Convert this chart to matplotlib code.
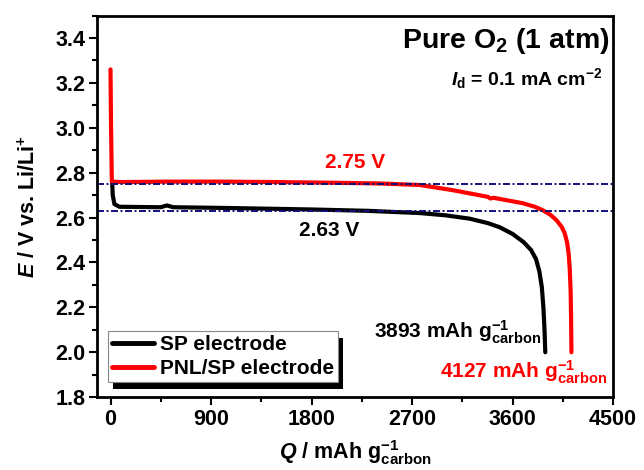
import numpy as np
import matplotlib
matplotlib.use("Agg")
import matplotlib.pyplot as plt
from matplotlib.ticker import MultipleLocator
from matplotlib.patches import Rectangle

plt.rcParams['font.family'] = 'Liberation Sans'
plt.rcParams['font.weight'] = 'bold'
plt.rcParams['mathtext.fontset'] = 'custom'
plt.rcParams['mathtext.rm'] = 'Liberation Sans:bold'
plt.rcParams['mathtext.it'] = 'Liberation Sans:italic:bold'
plt.rcParams['mathtext.bf'] = 'Liberation Sans:bold'

# Discharge curves
q_sp = [15, 20, 35, 80, 450, 505, 560, 1000, 1800, 2300, 2769, 3000, 3216, 3380, 3484,
        3600, 3700, 3766, 3810, 3840, 3862, 3876, 3886, 3893]
e_sp = [2.76, 2.70, 2.66, 2.648, 2.646, 2.654, 2.646, 2.643, 2.636, 2.630, 2.620,
        2.610, 2.595, 2.575, 2.557, 2.527, 2.49, 2.455, 2.415, 2.36, 2.29, 2.20,
        2.10, 2.00]

q_pnl = [0, 5, 12, 100, 500, 1000, 1500, 2000, 2400, 2769, 3064, 3380, 3400, 3430,
         3690, 3800, 3869, 3940, 3994, 4040, 4066, 4088, 4102, 4112, 4120, 4124, 4127]
e_pnl = [3.26, 3.00, 2.76, 2.758, 2.760, 2.760, 2.758, 2.755, 2.752, 2.745, 2.722,
         2.692, 2.685, 2.688, 2.664, 2.648, 2.633, 2.612, 2.588, 2.558, 2.531, 2.49,
         2.44, 2.37, 2.27, 2.15, 2.00]

ref_levels = [2.75, 2.63]

fig = plt.figure(figsize=(6.44, 4.7), dpi=100)
ax = fig.add_axes([0.1506, 0.155, 0.8014, 0.812])

ax.plot(q_sp, e_sp, color='black', lw=3.0, label='SP electrode',
        solid_capstyle='round', solid_joinstyle='round')
ax.plot(q_pnl, e_pnl, color='#ff0000', lw=3.0, label='PNL/SP electrode',
        solid_capstyle='round', solid_joinstyle='round')
for lv in ref_levels:
    ax.axhline(lv, color='#10107a', lw=1.4, ls='-.', dashes=(3.6, 1.3, 1.0, 1.3))

ax.set_xlim(-121, 4500)
ax.set_ylim(1.8, 3.5)
ax.set_xticks([0, 900, 1800, 2700, 3600, 4500])
ax.set_yticks(np.arange(1.8, 3.41, 0.2))
ax.xaxis.set_minor_locator(MultipleLocator(450))
ax.yaxis.set_minor_locator(MultipleLocator(0.1))
ax.tick_params(which='major', direction='out', length=5.5, width=1.5, labelsize=15.5, pad=3)
ax.tick_params(which='minor', direction='out', length=3.5, width=1.5)
ax.tick_params(top=False, right=False)
for lab in ax.get_xticklabels() + ax.get_yticklabels():
    lab.set_fontweight('bold')
for sp in ax.spines.values():
    sp.set_linewidth(2.0)

ax.set_xlabel(r'$\mathit{Q}$ / mAh g$^{-1}_{\mathrm{carbon}}$', fontsize=15.5,
              fontweight='bold', labelpad=6)
ax.set_ylabel(r'$\mathit{E}$ / V vs. Li/Li$^{+}$', fontsize=15.5,
              fontweight='bold', labelpad=11)

ax.text(0.994, 0.915, r'Pure O$_2$ (1 atm)', transform=ax.transAxes,
        ha='right', va='baseline', fontsize=20.5)
ax.text(0.979, 0.818, r'$\mathit{I}_{\mathrm{d}}$ = 0.1 mA cm$^{-2}$', transform=ax.transAxes,
        ha='right', va='baseline', fontsize=14)

ax.text(2187, 2.847, '2.75 V', color='#ff0000', ha='center', va='center', fontsize=15)
ax.text(1955, 2.544, '2.63 V', color='black', ha='center', va='center', fontsize=15)
ax.text(3860, 2.063, r'3893 mAh g$^{-1}_{\mathrm{carbon}}$', color='black', ha='right',
        va='baseline', fontsize=15)
ax.text(4451, 1.885, r'4127 mAh g$^{-1}_{\mathrm{carbon}}$', color='#ff0000', ha='right',
        va='baseline', fontsize=15)

leg = ax.legend(loc='lower left', bbox_to_anchor=(0.021, 0.039), fontsize=15,
                frameon=True, fancybox=False, shadow=False, framealpha=1,
                handlelength=2.0, handletextpad=0.3, borderpad=0.2, labelspacing=0.25,
                borderaxespad=0)
leg.get_frame().set_edgecolor('#888888')
leg.get_frame().set_linewidth(0.8)
for h in leg.get_lines():
    h.set_linewidth(3.5)

# black drop shadow, offset right and down, under the legend box
fig.canvas.draw()
bb = leg.get_window_extent().transformed(ax.transAxes.inverted())
dx = 5 / (ax.bbox.width)
dy = 7 / (ax.bbox.height)
ax.add_patch(Rectangle((bb.x0 + dx, bb.y0 - dy), bb.width, bb.height,
                       transform=ax.transAxes, facecolor='black', edgecolor='none',
                       zorder=4.5, clip_on=False))

fig.savefig('out.png', dpi=100)
